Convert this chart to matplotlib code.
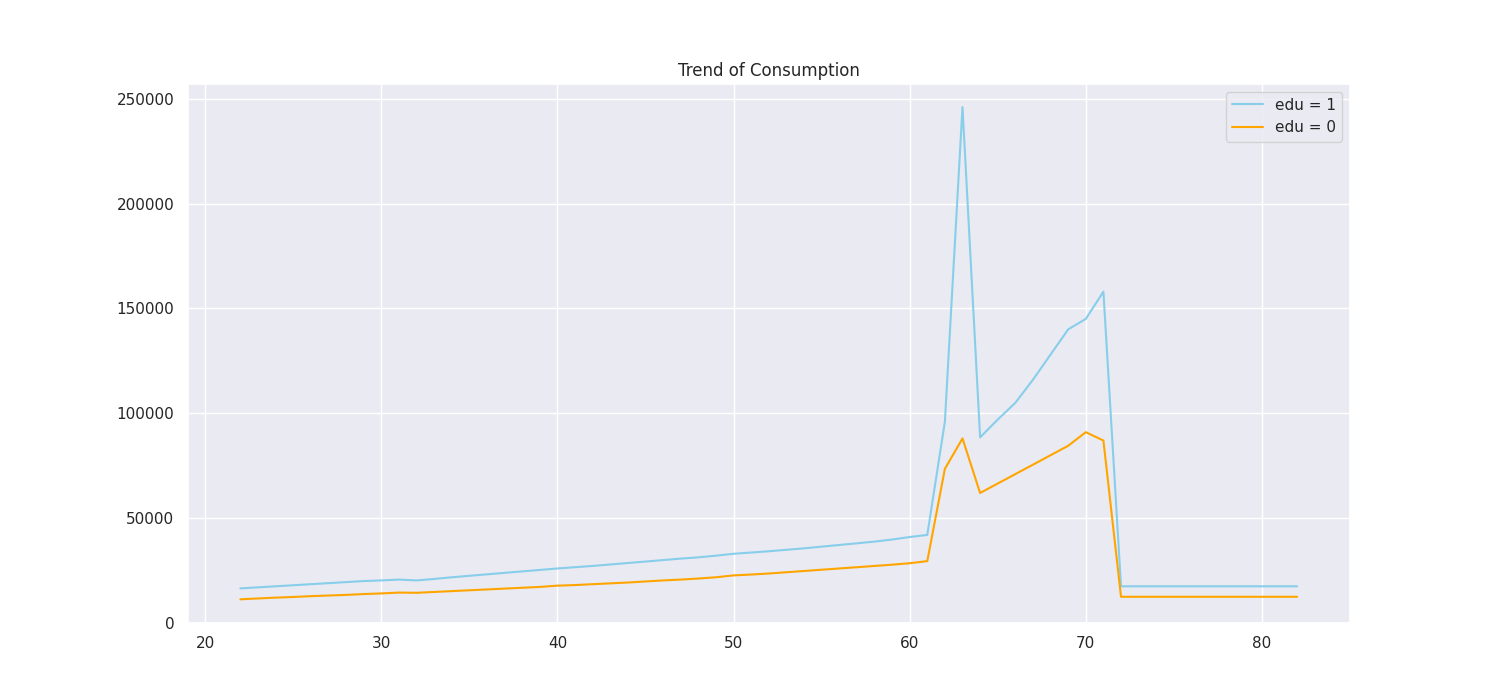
import matplotlib
matplotlib.use("Agg")
import matplotlib.pyplot as plt
import seaborn as sns

ages = list(range(22, 83))

edu1 = [16500, 17000, 17500, 18000, 18500, 19000, 19500, 20000, 20300, 20700,
        20300, 21000, 21800, 22500, 23200, 23900, 24600, 25300, 26000, 26600,
        27200, 27900, 28600, 29300, 30000, 30700, 31300, 32100, 33000, 33600,
        34200, 34900, 35600, 36400, 37200, 38000, 38800, 39800, 41000, 42000,
        96000, 246000, 88500, 97000, 105000, 116000, 128000, 140000, 145000, 158000,
        17500, 17500, 17500, 17500, 17500, 17500, 17500, 17500, 17500, 17500, 17500]

edu0 = [11300, 11700, 12100, 12400, 12800, 13100, 13400, 13800, 14100, 14500,
        14400, 14800, 15200, 15600, 16000, 16400, 16800, 17200, 17800, 18100,
        18500, 18900, 19300, 19800, 20300, 20700, 21200, 21800, 22700, 23100,
        23600, 24200, 24800, 25400, 26000, 26600, 27200, 27800, 28500, 29500,
        73500, 88000, 62000, 66500, 71000, 75500, 80000, 84500, 91000, 87000,
        12500, 12500, 12500, 12500, 12500, 12500, 12500, 12500, 12500, 12500, 12500]

sns.set_theme(style="darkgrid")

fig, ax = plt.subplots(figsize=(15, 7), dpi=100)
ax.plot(ages, edu1, color="skyblue", label="edu = 1")
ax.plot(ages, edu0, color="orange", label="edu = 0")
ax.set_title("Trend of Consumption")
ax.set_xlim(19, 85)
ax.set_ylim(0, 257000)
ax.legend(loc="upper right")
plt.savefig("out.png")
